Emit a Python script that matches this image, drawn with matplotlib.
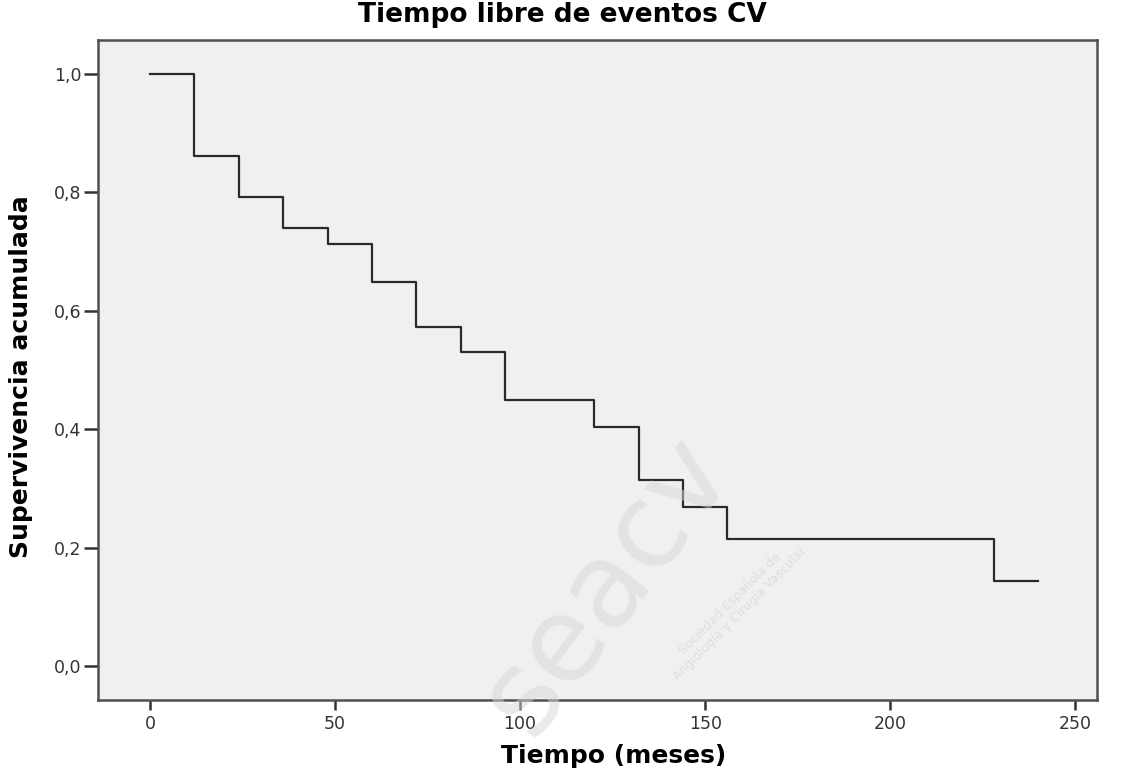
import numpy as np
import matplotlib.pyplot as plt

# Datos de la curva de supervivencia (Kaplan-Meier)
tiempos = [0, 12, 24, 36, 48, 60, 72, 84, 96, 120, 132, 144, 156, 228, 240]
supervivencia = [1.0, 0.862, 0.792, 0.739, 0.712, 0.648, 0.572, 0.530,
                 0.449, 0.404, 0.314, 0.269, 0.215, 0.143, 0.143]
xticks = [0, 50, 100, 150, 200, 250]
yticks = [0.0, 0.2, 0.4, 0.6, 0.8, 1.0]
yticklabels = ['0,0', '0,2', '0,4', '0,6', '0,8', '1,0']

fig = plt.figure(figsize=(11.23, 7.75), dpi=100)
ax = fig.add_axes([0.0873, 0.0968, 0.8896, 0.8516])
ax.set_facecolor('#f0f0f0')

# Marca de agua
fig.text(0.54, 0.245, 'seacv', fontsize=84, color='#d6d6d6', alpha=0.5,
         rotation=53, ha='center', va='center', zorder=0)
fig.text(0.655, 0.215, 'Sociedad Española de\nAngiología y Cirugía Vascular', fontsize=9,
         color='#cccccc', alpha=0.5, rotation=45, ha='center', va='center',
         linespacing=1.1, zorder=0)

ax.step(tiempos, supervivencia, where='post', color='#2a2a2a', linewidth=1.6, zorder=3)

ax.set_xlim(-14.05, 255.9)
ax.set_ylim(-0.0574, 1.0574)
ax.set_xticks(xticks)
ax.set_yticks(yticks)
ax.set_yticklabels(yticklabels)
ax.tick_params(axis='x', direction='out', length=7, width=1.8, color='#333333',
               labelsize=12.5, labelcolor='#333333', pad=4)
ax.tick_params(axis='y', direction='out', length=10, width=1.8, color='#333333',
               labelsize=12.5, labelcolor='#333333', pad=2)

for s in ax.spines.values():
    s.set_color('#505050')
    s.set_linewidth(1.8)

fig.text(0.501, 0.981, 'Tiempo libre de eventos CV', fontsize=19, fontweight='bold',
         ha='center', va='center')
ax.set_xlabel('Tiempo (meses)', fontsize=18, fontweight='bold')
ax.xaxis.set_label_coords(0.516, -0.067)
ax.set_ylabel('Supervivencia acumulada', fontsize=18, fontweight='bold')
ax.yaxis.set_label_coords(-0.065, 0.49)

fig.savefig('out.png', dpi=100)
